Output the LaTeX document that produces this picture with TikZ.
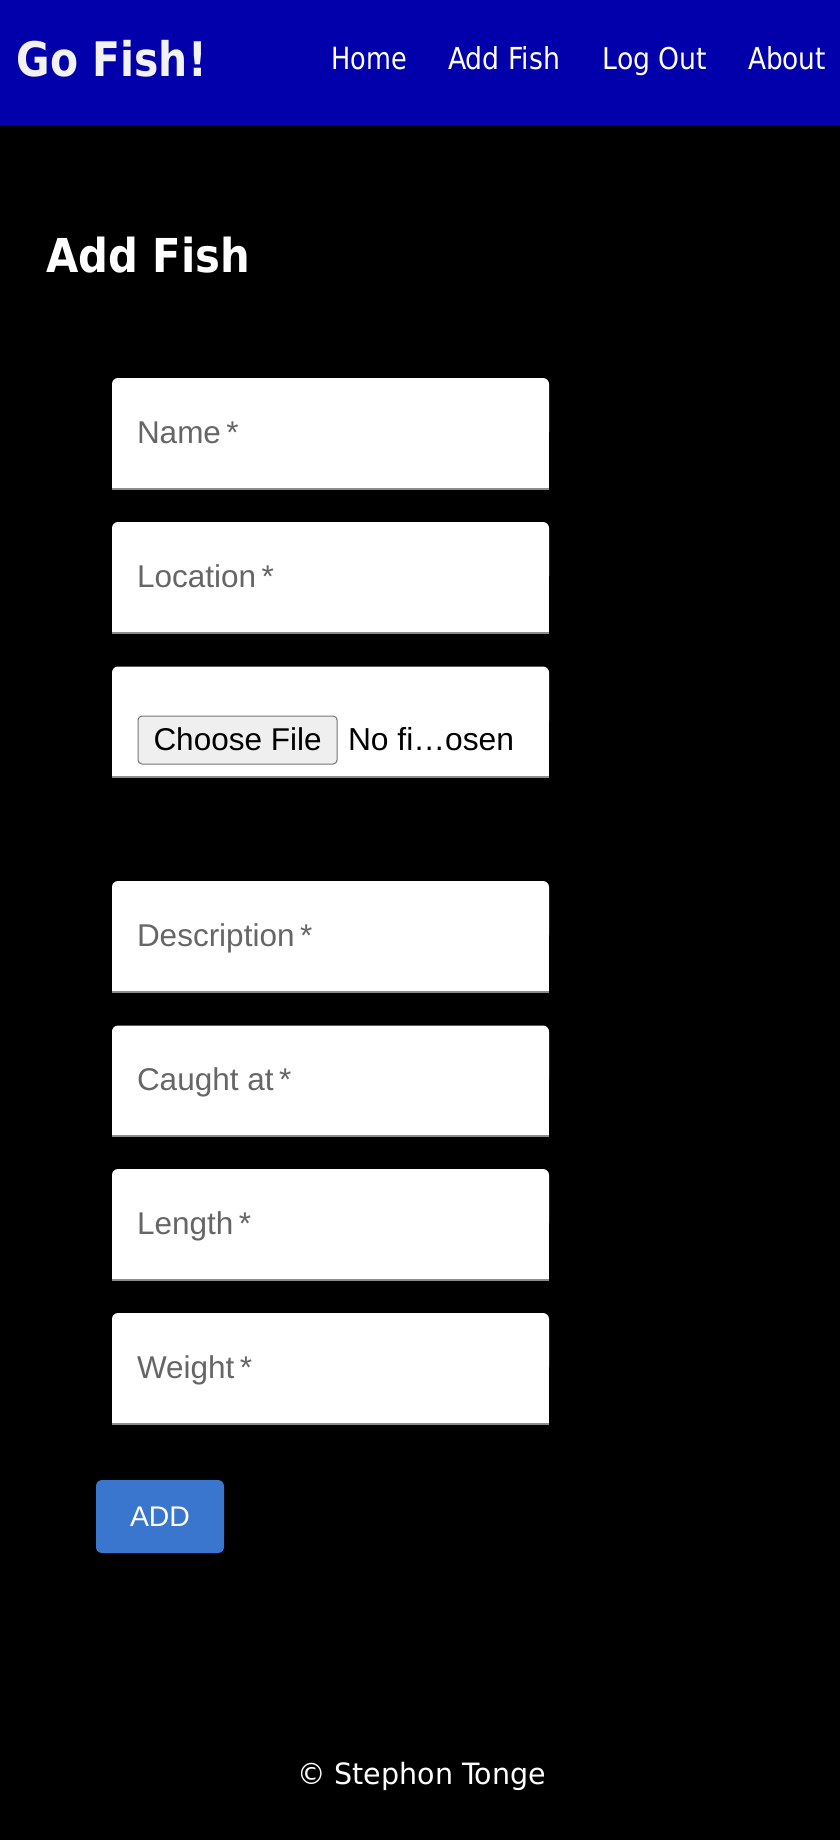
\documentclass[tikz,border=0pt]{standalone}
\usepackage{graphicx}
\usepackage{fontspec}
\setmainfont{Liberation Sans}
\newfontfamily\navfont{DejaVu Sans}
\definecolor{hdr}{RGB}{2,0,170}
\definecolor{phgray}{RGB}{102,102,102}
\definecolor{uline}{RGB}{141,141,141}
\definecolor{addblue}{RGB}{58,118,206}
\definecolor{filebtn}{RGB}{239,239,239}
\definecolor{filebrd}{RGB}{118,118,118}
\definecolor{offwhite}{RGB}{242,242,242}
\tikzset{
  txt/.style={anchor=base west, inner sep=0pt, outer sep=0pt},
  navtxt/.style={txt, text=white},
  phtxt/.style={txt, text=phgray, font=\fontsize{31.5}{36}\selectfont},
}
\newcommand\fitto[3]{\resizebox{#1pt}{#2pt}{#3}}
\newcommand\req{\hspace{5.5pt}*}
\newcommand\fieldbox[1]{%
  \fill[white, rounded corners=6pt] (112,#1) rectangle (549,#1+60);
  \fill[white] (112,#1+20) rectangle (549,#1+109.5);
  \fill[uline] (112,#1+109.5) rectangle (549,#1+111.5);
}
\begin{document}
\begin{tikzpicture}[x=1pt,y=-1pt]
\useasboundingbox (0,0) rectangle (840,1840);
\fill[black] (0,0) rectangle (840,1840);
% header
\fill[hdr] (0,0) rectangle (840,125);
\node[txt, text=offwhite] (brand) at (16.7,76.7) {\fitto{190}{36.2}{\navfont\bfseries Go Fish!}};
\node[navtxt] (home) at (331.7,69.5) {\fitto{75.5}{22.3}{\navfont Home}};
\node[navtxt] (addnav) at (448,69.5) {\fitto{112}{23}{\navfont Add Fish}};
\node[navtxt] (logout) at (602.7,69.5) {\fitto{104.6}{22.3}{\navfont Log Out}};
\node[navtxt] (about) at (748,69.5) {\fitto{78}{23}{\navfont About}};
% heading
\node[txt, text=white] (title) at (46,272.7) {\fitto{204}{35.5}{\navfont\bfseries Add Fish}};
% fields
\fieldbox{378}
\node[phtxt] (fname) at (137,443.5) {Name\req};
\fieldbox{522}
\node[phtxt] (floc) at (137,587.5) {Location\req};
\fieldbox{666.5}
\node[anchor=base west, draw=filebrd, line width=1pt, fill=filebtn, rounded corners=4pt,
      minimum height=48pt, text height=22pt, text depth=2pt, inner xsep=15.5pt, inner ysep=0pt,
      font=\fontsize{31.5}{36}\selectfont, text=black] (choose) at (137.5,750) {Choose File};
\node[txt, text=black, font=\fontsize{31.8}{36}\selectfont] (nofile) at (348,750) {No fi…osen};
\fieldbox{881}
\node[phtxt] (fdesc) at (137,946.5) {Description\req};
\fieldbox{1025.5}
\node[phtxt] (fcaught) at (137,1090) {Caught at\req};
\fieldbox{1169}
\node[phtxt] (flen) at (137,1234) {Length\req};
\fieldbox{1313}
\node[phtxt] (fweight) at (137,1378) {Weight\req};
% add button
\node[anchor=base, fill=addblue, rounded corners=6pt, minimum width=128pt, minimum height=73pt,
      text height=20pt, text depth=1pt, inner sep=0pt, text=white,
      font=\fontsize{28.4}{32}\selectfont] (addbtn) at (160,1526) {ADD};
% footer
\node[txt, text=white] (footer) at (297,1784) {\fitto{249}{22.3}{\navfont © Stephon Tonge}};
\end{tikzpicture}
\end{document}
